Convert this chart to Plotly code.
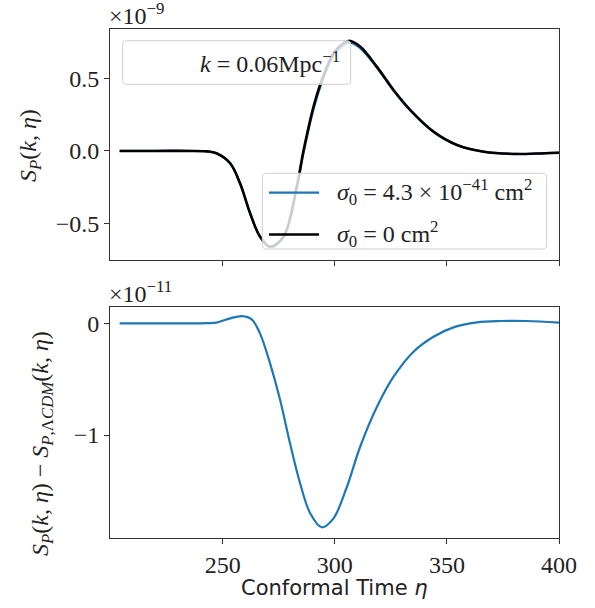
import numpy as np
import plotly.graph_objects as go

# --- data (units: top 1e-9, bottom 1e-11) ---
eta_top = [204, 220, 235, 243, 247.2, 253.3, 257.7, 262.2, 266.6, 271.1, 277.1, 283, 286, 290.5, 294.2,
           299.4, 303.8, 306.5, 311.3, 318.8, 326.2, 333.6, 344, 354.5, 366.4, 381.3, 390, 400]
sp_lcdm = [0.0, 0.0, 0.0, -0.003, -0.016, -0.085, -0.223, -0.43, -0.59, -0.66, -0.59, -0.246, 0.0, 0.306, 0.49,
           0.674, 0.743, 0.76, 0.72, 0.58, 0.42, 0.283, 0.133, 0.041, -0.005, -0.021, -0.018, -0.012]

eta_diff = [204, 220, 235, 243, 247.2, 253.3, 258.5, 262.9, 266.6, 271.1, 275.6, 280, 284.5, 289, 294.2,
            299.4, 305.4, 311.3, 318.8, 326.2, 335.1, 344, 352.9, 363.4, 373.8, 385.7, 400]
sp_diff = [0.0, 0.0, 0.0, 0.002, 0.006, 0.045, 0.065, 0.036, -0.09, -0.358, -0.687, -1.074, -1.432, -1.70, -1.826,
           -1.746, -1.463, -1.105, -0.747, -0.478, -0.254, -0.12, -0.036, 0.009, 0.021, 0.021, 0.006]

xticks = [250, 300, 350, 400]
top_yticks = [-0.5, 0.0, 0.5]
top_yticktext = ["−0.5", "0.0", "0.5"]
bot_yticks = [-1, 0]
bot_yticktext = ["−1", "0"]

label_sigma = "<i>σ</i><sub>0</sub> = 4.3 × 10<sup>−41</sup> cm<sup>2</sup>"
label_zero = "<i>σ</i><sub>0</sub> = 0 cm<sup>2</sup>"
label_k = "<i>k</i> = 0.06Mpc<sup>−1</sup>"

BLUE = "#1f77b4"
SERIF = "Liberation Serif, DejaVu Serif, serif"
SANS = "DejaVu Sans, sans-serif"
TXT = "#222"

# blue curve = LCDM curve + the (1e-11) correction, expressed in 1e-9 units
sp_sigma = list(np.array(sp_lcdm) + np.interp(eta_top, eta_diff, sp_diff) * 0.01)

W, H = 595, 608
fig = go.Figure()

fig.add_trace(go.Scatter(x=eta_top, y=sp_sigma, mode="lines", line=dict(color=BLUE, width=2.2, shape="spline"),
                         name=label_sigma, showlegend=False, xaxis="x", yaxis="y"))
fig.add_trace(go.Scatter(x=eta_top, y=sp_lcdm, mode="lines", line=dict(color="black", width=2.6, shape="spline"),
                         name=label_zero, showlegend=False, xaxis="x", yaxis="y"))
fig.add_trace(go.Scatter(x=eta_diff, y=sp_diff, mode="lines", line=dict(color=BLUE, width=2.2, shape="spline"),
                         showlegend=False, xaxis="x2", yaxis="y2"))

xd = [110 / W, 559 / W]
axcommon = dict(showline=True, linecolor="#333", linewidth=1, mirror=True, ticks="outside", ticklen=5,
                tickcolor="#333", showgrid=False, zeroline=False, automargin=False,
                tickfont=dict(family=SERIF, size=24, color=TXT))

fig.update_layout(
    width=W, height=H, autosize=False, margin=dict(l=0, r=0, t=0, b=0, pad=0, autoexpand=False),
    paper_bgcolor="white", plot_bgcolor="white", showlegend=False,
    xaxis=dict(domain=xd, range=[199.7, 400], tickvals=xticks, showticklabels=False, anchor="y", **axcommon),
    yaxis=dict(domain=[1 - 260 / H, 1 - 29 / H], range=[-0.752, 0.841], tickvals=top_yticks,
               ticktext=top_yticktext, anchor="x", **axcommon),
    xaxis2=dict(domain=xd, range=[199.7, 400], tickvals=xticks, anchor="y2", **axcommon),
    yaxis2=dict(domain=[1 - 538 / H, 1 - 306.7 / H], range=[-1.922, 0.149], tickvals=bot_yticks,
                ticktext=bot_yticktext, anchor="x2", **axcommon),
)


def P(x, y):
    return x / W, 1 - y / H


def rrect(x0, y0, x1, y1, r=4):
    def s(x, y):
        a, b = P(x, y)
        return f"{a:.5f},{b:.5f}"
    return (f"M {s(x0 + r, y0)} L {s(x1 - r, y0)} Q {s(x1, y0)} {s(x1, y0 + r)} "
            f"L {s(x1, y1 - r)} Q {s(x1, y1)} {s(x1 - r, y1)} L {s(x0 + r, y1)} "
            f"Q {s(x0, y1)} {s(x0, y1 - r)} L {s(x0, y0 + r)} Q {s(x0, y0)} {s(x0 + r, y0)} Z")


shapes = [
    dict(type="path", xref="paper", yref="paper", path=rrect(122.7, 40.7, 350.7, 84.3),
         fillcolor="rgba(255,255,255,0.8)", line=dict(color="#d0d0d0", width=1), layer="above"),
    dict(type="path", xref="paper", yref="paper", path=rrect(262.3, 173.3, 546.7, 249),
         fillcolor="rgba(255,255,255,0.8)", line=dict(color="#d0d0d0", width=1), layer="above"),
]
# legend sample lines
for yy, col, wd in [(192.7, BLUE, 2.2), (234.5, "black", 2.6)]:
    x0, y0 = P(269, yy)
    x1, _ = P(319, yy)
    shapes.append(dict(type="line", xref="paper", yref="paper", x0=x0, x1=x1, y0=y0, y1=y0,
                       line=dict(color=col, width=wd), layer="above"))
fig.update_layout(shapes=shapes)


def A(text, x, y, size=23, family=SERIF, xanchor="center", angle=0):
    px, py = P(x, y)
    return dict(text=text, x=px, y=py, xref="paper", yref="paper", xanchor=xanchor, yanchor="middle",
                textangle=angle, showarrow=False, font=dict(family=family, size=size, color=TXT))


ann = [
    A(label_k, 342, 62, size=24, xanchor="right"),
    A(label_sigma, 335, 192, size=24, xanchor="left"),
    A(label_zero, 335, 234, size=24, xanchor="left"),
    A("×10<sup>−9</sup>", 107, 14, size=24, xanchor="left"),
    A("×10<sup>−11</sup>", 107, 292, size=24, xanchor="left"),
    A("<i>S<sub>P</sub></i>(<i>k</i>, <i>η</i>)", 30, 146, size=24, angle=-90),
    A("<i>S<sub>P</sub></i>(<i>k</i>, <i>η</i>) − <i>S</i><sub><i>P</i>,Λ<i>CDM</i></sub>(<i>k</i>, <i>η</i>)",
      42, 444, size=24, angle=-90),
    A("Conformal Time <i>η</i>", 334, 588, size=21, family=SANS),
]
fig.update_layout(annotations=ann)

fig.write_html("out.html", config={"responsive": False},
               post_script="document.body.style.margin='0';document.body.style.overflow='hidden';"
                           "var gd=document.getElementById('{plot_id}');"
                           "Plotly.relayout(gd,{width:595,height:608});")
